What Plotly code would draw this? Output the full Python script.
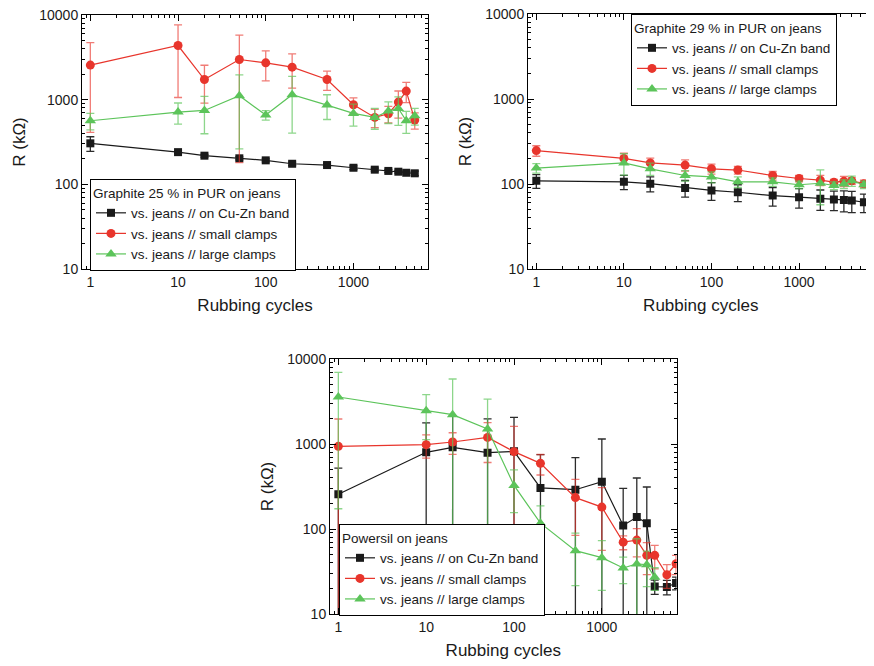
import plotly.graph_objects as go

# ---------------- data ----------------
X_G25 = [1, 10, 20, 50, 100, 200, 500, 1000, 1750, 2500, 3250, 4000, 5000]
G25_BAND = [305, 240, 218, 203, 192, 175, 169, 157, 149, 144, 141, 137, 135]
G25_BAND_ERR = [60, 8, 8, 8, 8, 8, 6, 8, 6, 6, 5, 5, 8]
G25_SMALL = [2560, 4360, 1730, 2980, 2720, 2420, 1730, 870, 617, 682, 936, 1262, 574]
G25_SMALL_ERR = [2150, 3300, 820, 2800, 1050, 1050, 440, 180, 150, 150, 330, 340, 125]
G25_LARGE = [564, 713, 746, 1112, 658, 1142, 863, 688, 617, 733, 788, 564, 646]
G25_LARGE_ERR = [125, 200, 350, 850, 85, 740, 280, 200, 170, 210, 290, 165, 145]

X_G29 = [1, 10, 20, 50, 100, 200, 500, 1000, 1750, 2500, 3250, 4000, 5500, 7000]
G29_BAND = [109, 106, 101, 90, 84, 80, 73, 70, 67, 65.5, 65, 64, 61]
G29_BAND_ERR = [20, 20, 20, 20, 20, 18, 18, 18, 18, 17, 18, 18, 15]
G29_SMALL = [247, 200, 177, 167, 151, 146, 126, 116, 111, 105, 108, 109, 101, 97]
G29_SMALL_ERR = [35, 30, 25, 25, 20, 15, 15, 10, 15, 8, 15, 10, 10, 10]
G29_LARGE = [154, 177, 151, 126, 121, 106, 106, 98, 102, 96, 100, 109, 98, 97]
G29_LARGE_ERR = [20, 50, 25, 18, 18, 15, 12, 10, 45, 10, 12, 15, 10, 10]

X_PS = [1, 10, 20, 50, 100, 200, 500, 1000, 1750, 2500, 3250, 4000, 5500, 7000]
PS_BAND = [256, 798, 914, 791, 820, 304, 290, 360, 110, 138, 117, 21, 20.8, 23.2]
PS_BAND_ERR = [265, 970, 1200, 1180, 1240, 445, 400, 785, 190, 260, 195, 4, 4, 4]
PS_SMALL = [939, 982, 1056, 1196, 813, 592, 234, 181, 70, 74, 49, 49, 29, 39]
PS_SMALL_ERR = [1030, 300, 300, 590, 800, 160, 150, 125, 13, 27, 20, 15, 9, 10]
PS_LARGE = [3573, 2466, 2214, 1501, 326, 117, 55.6, 46, 34.8, 38.8, 38, 27]
PS_LARGE_ERR = [3400, 1340, 3600, 1880, 170, 70, 34, 27, 12, 38, 17, 8]

SERIES_NAMES = ["vs. jeans // on Cu-Zn band", "vs. jeans // small clamps", "vs. jeans // large clamps"]
PANEL_TITLES = ["Graphite 25 % in PUR on jeans", "Graphite 29 % in PUR on jeans", "Powersil on jeans"]
Y_TICKS = [10, 100, 1000, 10000]
Y_TICK_TEXT = ["10", "100", "1000", "10000"]
X_TICKS = [1, 10, 100, 1000]
X_TICK_TEXT = ["1", "10", "100", "1000"]

# ---------------- style ----------------
FONT = "Liberation Sans, Arial, sans-serif"
COLORS = ["#1a1a1a", "#e8352c", "#5cc45a"]
ERR_COLORS = ["rgba(20,20,20,0.9)", "rgba(232,53,44,0.65)", "rgba(92,196,90,0.7)"]
SYMBOLS = ["square", "circle", "triangle-up"]
SIZES = [8, 9, 10]

# page body has an 8px margin; figure fills the rest of the 874x666 window
OFF = 8
W, H = 874 - OFF, 666 - OFF
def px_x(a, b):
    return [(a - OFF) / W, (b - OFF) / W]
def px_y(top, bottom):
    return [1 - (bottom - OFF) / H, 1 - (top - OFF) / H]

panels = [
    dict(x=X_G25, ys=[(G25_BAND, G25_BAND_ERR), (G25_SMALL, G25_SMALL_ERR), (G25_LARGE, G25_LARGE_ERR)],
         xd=px_x(82, 428), yd=px_y(15, 269), legend="legend", lx=90, ly=271, anchor="bottom"),
    dict(x=X_G29, ys=[(G29_BAND, G29_BAND_ERR), (G29_SMALL, G29_SMALL_ERR), (G29_LARGE, G29_LARGE_ERR)],
         xd=px_x(528, 873.5), yd=px_y(14, 269), legend="legend2", lx=631, ly=14, anchor="top"),
    dict(x=X_PS, ys=[(PS_BAND, PS_BAND_ERR), (PS_SMALL, PS_SMALL_ERR), (PS_LARGE, PS_LARGE_ERR)],
         xd=px_x(330, 676.5), yd=px_y(359, 614), legend="legend3", lx=339, ly=616, anchor="bottom"),
]

fig = go.Figure()
layout = dict(
    template="none",
    width=W, height=H, margin=dict(l=0, r=0, t=0, b=0, autoexpand=False),
    paper_bgcolor="white", plot_bgcolor="white",
    font=dict(family=FONT, color="#1a1a1a", size=14),
    showlegend=True,
)

for i, p in enumerate(panels):
    suf = "" if i == 0 else str(i + 1)
    for s, (yv, ev) in enumerate(p["ys"]):
        n = len(yv)
        fig.add_trace(go.Scatter(
            x=p["x"][:n], y=yv, name=SERIES_NAMES[s], mode="lines+markers",
            xaxis="x" + suf, yaxis="y" + suf, legend=p["legend"],
            line=dict(color=COLORS[s], width=1.2),
            marker=dict(symbol=SYMBOLS[s], size=SIZES[s], color=COLORS[s],
                        line=dict(width=0)),
            error_y=dict(type="data", array=ev[:n], visible=True, color=ERR_COLORS[s],
                         thickness=1.3, width=4),
        ))
    axcommon = dict(showline=True, linecolor="black", linewidth=1, mirror="allticks",
                    ticks="inside", ticklen=6, tickcolor="black", showgrid=False,
                    zeroline=False, automargin=True, ticklabeloverflow="allow",
                    tickfont=dict(size=14, family=FONT, color="#1a1a1a"),
                    minor=dict(ticks="inside", ticklen=3, tickcolor="black", dtick="D1", showgrid=False))
    layout["xaxis" + suf] = dict(
        axcommon, type="log", domain=p["xd"], range=[-0.095, 3.85],
        tickvals=X_TICKS, ticktext=X_TICK_TEXT, anchor="y" + suf,
        title=dict(text="Rubbing cycles", font=dict(size=17, family=FONT), standoff=10),
    )
    layout["yaxis" + suf] = dict(
        axcommon, type="log", domain=p["yd"], range=[1, 4],
        tickvals=Y_TICKS, ticktext=Y_TICK_TEXT, anchor="x" + suf,
        title=dict(text="R (kΩ)", font=dict(size=17, family=FONT), standoff=9),
    )
    layout[p["legend"]] = dict(
        x=(p["lx"] - OFF) / W, y=1 - (p["ly"] - OFF) / H, xanchor="left", yanchor=p["anchor"],
        bgcolor="white", bordercolor="black", borderwidth=1,
        font=dict(size=13.5, family=FONT, color="#1a1a1a"),
        title=dict(text=PANEL_TITLES[i], font=dict(size=13.5, family=FONT, color="#1a1a1a")),
        itemwidth=30, tracegroupgap=0,
    )

fig.update_layout(**layout)
fig.write_html("out.html")
